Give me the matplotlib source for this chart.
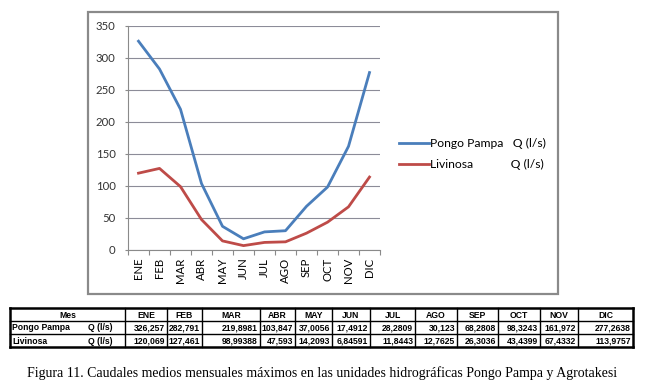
import matplotlib
matplotlib.use("Agg")
import matplotlib.pyplot as plt
from matplotlib import font_manager
from matplotlib.patches import Rectangle

meses = ["ENE", "FEB", "MAR", "ABR", "MAY", "JUN", "JUL", "AGO", "SEP", "OCT", "NOV", "DIC"]
pongo_pampa = [326.257, 282.791, 219.8981, 103.847, 37.0056, 17.4912, 28.2809, 30.123,
               68.2808, 98.3243, 161.972, 277.2638]
livinosa = [120.069, 127.461, 98.99388, 47.593, 14.2093, 6.84591, 11.8443, 12.7625,
            26.3036, 43.4399, 67.4332, 113.9757]
series_names = ["Pongo Pampa", "Livinosa"]
unidad = "Q (l/s)"
caption = ("Figura 11. Caudales medios mensuales máximos en las unidades "
           "hidrográficas Pongo Pampa y Agrotakesi")


def has_font(name):
    try:
        path = font_manager.findfont(name, fallback_to_default=False)
        return name.split()[-1].lower() in path.lower() or "narrow" not in name.lower()
    except Exception:
        return False


chart_font = "Lato" if has_font("Lato") else "DejaVu Sans"
if has_font("Liberation Sans Narrow"):
    table_font, table_size = "Liberation Sans Narrow", 7.2
else:
    table_font, table_size = "Liberation Sans", 6.2

W, H = 645, 392
fig = plt.figure(figsize=(W / 100, H / 100), dpi=100)


def fx(px):
    return px / W


def fy(py):
    return 1 - py / H


# chart frame
fig.patches.append(Rectangle((fx(88), fy(294)), fx(558) - fx(88), fy(12) - fy(294),
                             transform=fig.transFigure, fill=False,
                             edgecolor="#8a8a8a", lw=1.6))

ax = fig.add_axes([fx(128), fy(250), fx(380) - fx(128), fy(26) - fy(250)])
x = list(range(len(meses)))
l1, = ax.plot(x, pongo_pampa, color="#4a7ebb", lw=2.0, solid_joinstyle="round")
l2, = ax.plot(x, livinosa, color="#be4b48", lw=2.0, solid_joinstyle="round")

ax.set_xlim(-0.5, 11.5)
ax.set_ylim(0, 350)
ax.set_yticks(range(0, 351, 50))
ax.set_xticks(x)
ax.set_xticklabels(meses, rotation=90, fontfamily=chart_font, fontsize=8.2)
ax.set_xticks([i + 0.5 for i in range(-1, 12)], minor=True)
ax.tick_params(axis="x", which="major", length=0, pad=5.5)
ax.tick_params(axis="x", which="minor", length=3.5, color="#8a8a8a", width=0.8)
ax.tick_params(axis="y", length=2.5, color="#8a8a8a", width=0.8, pad=6.5,
               labelsize=8.2, labelcolor="#333333")
for lab in ax.get_yticklabels():
    lab.set_fontfamily(chart_font)
ax.grid(axis="y", color="#8c8c98", lw=0.8)
ax.set_axisbelow(True)
for s in ["top", "right"]:
    ax.spines[s].set_visible(False)
for s in ["left", "bottom"]:
    ax.spines[s].set_color("#8a8a8a")
    ax.spines[s].set_linewidth(0.8)

fig.legend([l1, l2],
           [series_names[0] + "   " + unidad, series_names[1] + "            " + unidad],
           loc="center left", bbox_to_anchor=(fx(399), fy(154)), frameon=False,
           borderpad=0, borderaxespad=0, handlelength=2.5, handletextpad=0.05,
           labelspacing=0.85, prop={"family": chart_font, "size": 8.7})

# data table
tax = fig.add_axes([0, 0, 1, 1])
tax.set_xlim(0, W)
tax.set_ylim(H, 0)
tax.axis("off")

col_edges = [10, 125, 167, 202, 260, 295, 332, 370, 415, 457, 498, 540, 578, 633]
row_edges = [308, 321, 334, 347]

for xe in col_edges:
    lw = 1.8 if xe in (col_edges[0], col_edges[-1]) else 1.0
    tax.plot([xe, xe], [row_edges[0], row_edges[-1]], color="black", lw=lw,
             solid_capstyle="projecting")
for ye in row_edges:
    lw = 1.8 if ye in (row_edges[0], row_edges[-1]) else 1.0
    tax.plot([col_edges[0], col_edges[-1]], [ye, ye], color="black", lw=lw,
             solid_capstyle="projecting")

tkw = dict(fontfamily=table_font, fontsize=table_size, va="center", fontweight="bold")
ymid = [(row_edges[i] + row_edges[i + 1]) / 2 + 0.5 for i in range(3)]
tax.text((col_edges[0] + col_edges[1]) / 2, ymid[0], "Mes", ha="center", **tkw)
for j, m in enumerate(meses):
    tax.text((col_edges[j + 1] + col_edges[j + 2]) / 2, ymid[0], m, ha="center", **tkw)

for r, (name, vals) in enumerate(zip(series_names, [pongo_pampa, livinosa])):
    y = ymid[r + 1]
    tax.text(col_edges[0] + 2, y, name, ha="left", **tkw)
    tax.text(col_edges[1] - 13, y, unidad, ha="right", **tkw)
    for j, v in enumerate(vals):
        tax.text(col_edges[j + 2] - 2, y, str(v).replace(".", ","), ha="right", **tkw)

fig.text(0.5, fy(373), caption, ha="center", va="center",
         fontfamily="Liberation Serif", fontsize=10)

fig.savefig("out.png", dpi=100)
